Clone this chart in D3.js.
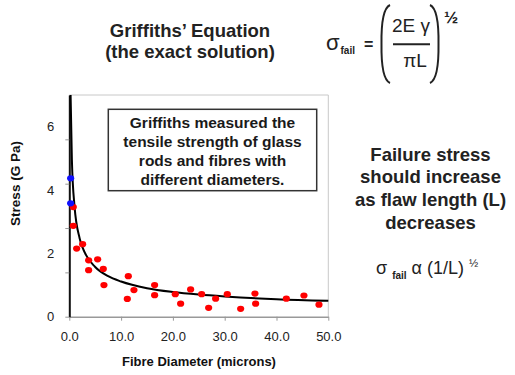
<!DOCTYPE html>
<html>
<head>
<meta charset="utf-8">
<script src="https://cdn.jsdelivr.net/npm/d3@7.9.0/dist/d3.min.js"></script>
<style>
  body { margin: 0; background: #fff; }
  svg { font-family: "Liberation Sans", Arial, sans-serif; }
</style>
</head>
<body>
<svg id="chart" width="515" height="375"></svg>
<script>
// measured data (diameter in microns, stress in GPa)
const redX = [0.77, 0.77, 1.42, 2.57, 3.73, 3.73, 5.47, 6.56, 6.69, 11.39, 11.2, 12.48, 16.47, 16.47,
  20.46, 21.49, 23.42, 25.55, 26.9, 28.25, 30.5, 33.08, 35.84, 35.97, 41.9, 45.3, 48.2];
const redY = [3.46, 2.87, 2.15, 2.29, 1.78, 1.47, 1.81, 1.51, 1.0, 1.28, 0.56, 0.84, 1.0, 0.68,
  0.71, 0.41, 0.86, 0.71, 0.28, 0.57, 0.71, 0.25, 0.73, 0.41, 0.57, 0.67, 0.38];
const blueX = [0.26, 0.26];
const blueY = [4.37, 3.58];

// fitted curve
const curveX = [0.25, 0.5, 1, 2, 3, 5, 7.5, 10, 15, 20, 25, 30, 40, 50];
const curveY = [7.0, 4.95, 3.5, 2.47, 2.02, 1.57, 1.28, 1.11, 0.9, 0.78, 0.7, 0.64, 0.55, 0.5];

const xTicks = [0, 10, 20, 30, 40, 50];
const yTickMarks = [0, 1.4, 2.8, 4.2, 5.6];
const yTickLabels = [0, 2, 4, 6];

const boxLines = ['Griffiths measured the', 'tensile strength of glass', 'rods and fibres with', 'different diameters.'];
const sideLines = ['Failure stress', 'should increase', 'as flaw length (L)', 'decreases'];

const svg = d3.select('#chart');

const x = d3.scaleLinear().domain([0, 50]).range([69.3, 328.3]);
const y = d3.scaleLinear().domain([0, 7]).range([316.7, 95]);

// plot frame (top & right)
svg.append('path')
  .attr('d', `M${x(0)},${y(7)}H${x(50)}V${y(0)}`)
  .attr('fill', 'none')
  .attr('stroke', '#c8c8c8')
  .attr('stroke-width', 1);

// x axis
const xAxis = svg.append('g')
  .attr('transform', `translate(0,${y(0)})`)
  .call(d3.axisBottom(x).tickValues(xTicks).tickFormat(d3.format('.1f')).tickSize(4).tickSizeOuter(0).tickPadding(11));
xAxis.select('.domain').attr('stroke', '#999').attr('stroke-width', 1.5);
xAxis.selectAll('.tick line').attr('stroke', '#999');
xAxis.selectAll('text').attr('font-size', 13).attr('fill', '#222')
  .attr('font-family', '"Liberation Sans", Arial, sans-serif');

// y axis line + ticks
const yAxis = svg.append('g')
  .attr('transform', `translate(${x(0)},0)`)
  .call(d3.axisLeft(y).tickValues(yTickMarks).tickFormat('').tickSize(4).tickSizeOuter(0));
yAxis.select('.domain').attr('stroke', '#111').attr('stroke-width', 2);
yAxis.selectAll('.tick line').attr('stroke', '#999');

// y labels
const yLab = svg.append('g')
  .attr('transform', `translate(${x(0)},0)`)
  .call(d3.axisLeft(y).tickValues(yTickLabels).tickFormat(d3.format('d')).tickSize(0).tickPadding(15));
yLab.select('.domain').remove();
yLab.selectAll('text').attr('font-size', 13).attr('fill', '#222')
  .attr('font-family', '"Liberation Sans", Arial, sans-serif');

// axis titles
svg.append('text')
  .attr('x', 199).attr('y', 366)
  .attr('text-anchor', 'middle')
  .attr('font-size', 13).attr('font-weight', 'bold').attr('fill', '#111')
  .text('Fibre Diameter (microns)');

svg.append('text')
  .attr('transform', 'translate(20,183.5) rotate(-90)')
  .attr('text-anchor', 'middle')
  .attr('font-size', 13.5).attr('font-weight', 'bold').attr('fill', '#111')
  .text('Stress (G Pa)');

// fitted curve
const curve = curveX.map((d, i) => [d, curveY[i]]);
svg.append('path')
  .datum(curve)
  .attr('fill', 'none')
  .attr('stroke', '#000')
  .attr('stroke-width', 2)
  .attr('d', d3.line().x(d => x(d[0])).y(d => y(d[1])).curve(d3.curveMonotoneX));

// points
svg.append('g').selectAll('ellipse')
  .data(redX.map((d, i) => [d, redY[i]]))
  .join('ellipse')
  .attr('cx', d => x(d[0])).attr('cy', d => y(d[1]))
  .attr('rx', 3.6).attr('ry', 3.1)
  .attr('fill', '#ff0000');

svg.append('g').selectAll('ellipse')
  .data(blueX.map((d, i) => [d, blueY[i]]))
  .join('ellipse')
  .attr('cx', d => x(d[0])).attr('cy', d => y(d[1]))
  .attr('rx', 3.6).attr('ry', 3.1)
  .attr('fill', '#1010ff');

// text box
svg.append('rect')
  .attr('x', 108.3).attr('y', 109.3).attr('width', 208.4).attr('height', 81.4)
  .attr('fill', '#fff').attr('stroke', '#333').attr('stroke-width', 1.5);
svg.append('g').selectAll('text')
  .data(boxLines)
  .join('text')
  .attr('x', 212.5).attr('y', (d, i) => 128 + i * 18.9)
  .attr('text-anchor', 'middle')
  .attr('font-size', 15.5).attr('font-weight', 'bold').attr('fill', '#1a1a1a')
  .text(d => d);

// title
svg.append('g').selectAll('text')
  .data(["Griffiths\u2019 Equation", '(the exact solution)'])
  .join('text')
  .attr('x', 190).attr('y', (d, i) => 36.7 + i * 21.6)
  .attr('text-anchor', 'middle')
  .attr('font-size', 18.5).attr('font-weight', 'bold').attr('fill', '#222')
  .text(d => d);

// formula
const f = svg.append('g').attr('fill', '#222');
f.append('text').attr('x', 326).attr('y', 50).attr('font-size', 22).text('\u03c3');
f.append('text').attr('x', 340.5).attr('y', 53.5).attr('font-size', 10).attr('font-weight', 'bold').text('fail');
f.append('text').attr('x', 364).attr('y', 50).attr('font-size', 16).attr('font-weight', 'bold').text('=');
f.append('text').attr('x', 411).attr('y', 31.5).attr('text-anchor', 'middle').attr('font-size', 19).text('2E \u03b3');
f.append('text').attr('x', 415).attr('y', 67).attr('text-anchor', 'middle').attr('font-size', 19).text('\u03c0L');
f.append('line').attr('x1', 393).attr('x2', 430).attr('y1', 44.3).attr('y2', 44.3)
  .attr('stroke', '#222').attr('stroke-width', 2);
f.append('path').attr('d', 'M390,5 Q381,9 381.5,44 Q381,79 390,83')
  .attr('fill', 'none').attr('stroke', '#222').attr('stroke-width', 2);
f.append('path').attr('d', 'M430,5 Q439,9 438.5,44 Q439,79 430,83')
  .attr('fill', 'none').attr('stroke', '#222').attr('stroke-width', 2);
f.append('text').attr('x', 444).attr('y', 23).attr('font-size', 17).attr('font-weight', 'bold').text('\u00bd');

// side text
svg.append('g').selectAll('text')
  .data(sideLines)
  .join('text')
  .attr('x', 430.5).attr('y', (d, i) => 160.7 + i * 22.6)
  .attr('text-anchor', 'middle')
  .attr('font-size', 18.5).attr('font-weight', 'bold').attr('fill', '#222')
  .text(d => d);

const prop = svg.append('text').attr('x', 376).attr('y', 274).attr('fill', '#222').attr('font-size', 18);
prop.append('tspan').text('\u03c3 ');
prop.append('tspan').attr('font-size', 10).attr('font-weight', 'bold').attr('dy', 5).text('fail');
prop.append('tspan').attr('dy', -5).text(' \u03b1 (1/L) ');
prop.append('tspan').attr('font-size', 11).attr('dy', -7).text('\u00bd');
</script>
</body>
</html>
